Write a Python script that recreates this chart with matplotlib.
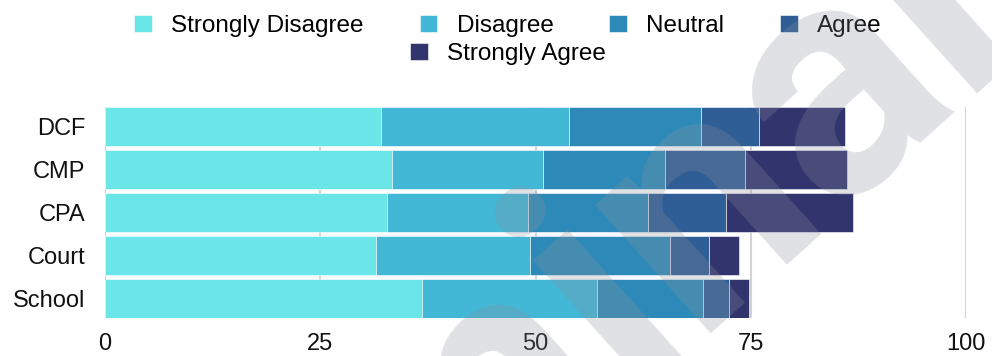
import matplotlib.pyplot as plt
import numpy as np
from matplotlib.textpath import TextPath
from matplotlib.font_manager import FontProperties

plt.rcParams['font.family'] = ['Liberation Sans', 'DejaVu Sans']

groups = ['DCF', 'CMP', 'CPA', 'Court', 'School']
responses = ['Strongly Disagree', 'Disagree', 'Neutral', 'Agree', 'Strongly Agree']
colors = ['#6ae5e8', '#42b7d6', '#2d8ab8', '#2e5e95', '#32346e']

strongly_disagree = [32.0, 33.3, 32.8, 31.5, 36.8]
disagree = [21.9, 17.6, 16.3, 17.9, 20.3]
neutral = [15.3, 14.1, 14.0, 16.2, 12.3]
agree = [6.8, 9.3, 9.0, 4.5, 3.1]
strongly_agree = [9.9, 11.9, 14.8, 3.5, 2.3]

series = [strongly_disagree, disagree, neutral, agree, strongly_agree]

W, H, DPI = 992, 356, 100
fig = plt.figure(figsize=(W / DPI, H / DPI), dpi=DPI)
ax = fig.add_axes([105 / W, 1 - 318 / H, 861 / W, 211 / H])

y = np.arange(len(groups))
left = np.zeros(len(groups))
bars = []
for vals, name, col in zip(series, responses, colors):
    b = ax.barh(y, vals, left=left, height=0.9, color=col, label=name,
                edgecolor='white', linewidth=0.4, zorder=2)
    bars.append(b)
    left += np.array(vals)

ax.set_xlim(0, 100)
ax.set_ylim(4.45, -0.45)
ax.set_xticks([0, 25, 50, 75, 100])
ax.set_yticks(y)
ax.set_yticklabels(groups)
ax.tick_params(axis='both', length=0, labelsize=17, colors='#111111')
ax.tick_params(axis='y', pad=14)
ax.tick_params(axis='x', pad=11)
ax.xaxis.grid(True, color='#d3d3d3', linewidth=1.5, zorder=0)
ax.set_axisbelow(True)
for s in ax.spines.values():
    s.set_visible(False)

leg_kw = dict(frameon=False, fontsize=17.5, handlelength=0.72, handleheight=0.72,
              handletextpad=0.8, columnspacing=2.3, borderpad=0, borderaxespad=0)
fig.legend(handles=bars[:4], labels=responses[:4], ncol=4,
           loc='center', bbox_to_anchor=(508 / W, 1 - 26 / H), **leg_kw)
fig.legend(handles=bars[4:], labels=responses[4:], ncol=1,
           loc='center', bbox_to_anchor=(508 / W, 1 - 54 / H), **leg_kw)

# watermark: place the word so the dot of its second "i" sits at (517, 156) px
wm_text = 'Preliminary'
wm_size = 235
wm_angle = np.radians(42)
fp = FontProperties(family='Roboto', weight='bold')
ext_i = TextPath((0, 0), 'i', size=wm_size, prop=fp).get_extents()
ext_pre = TextPath((0, 0), 'Prelimi', size=wm_size, prop=fp).get_extents()
along = (ext_pre.x1 - ext_i.width / 2) * DPI / 72
up = (ext_i.y1 - ext_i.width / 2) * DPI / 72
u = np.array([np.cos(wm_angle), np.sin(wm_angle)])
v = np.array([-np.sin(wm_angle), np.cos(wm_angle)])
start = np.array([517, 156]) - along * u - up * v
fig.text(start[0] / W, start[1] / H, wm_text, rotation=np.degrees(wm_angle),
         rotation_mode='anchor', ha='left', va='baseline', fontsize=wm_size,
         fontproperties=fp, color=(0.55, 0.56, 0.61, 0.27), zorder=10)

fig.savefig('out.png', dpi=DPI)
